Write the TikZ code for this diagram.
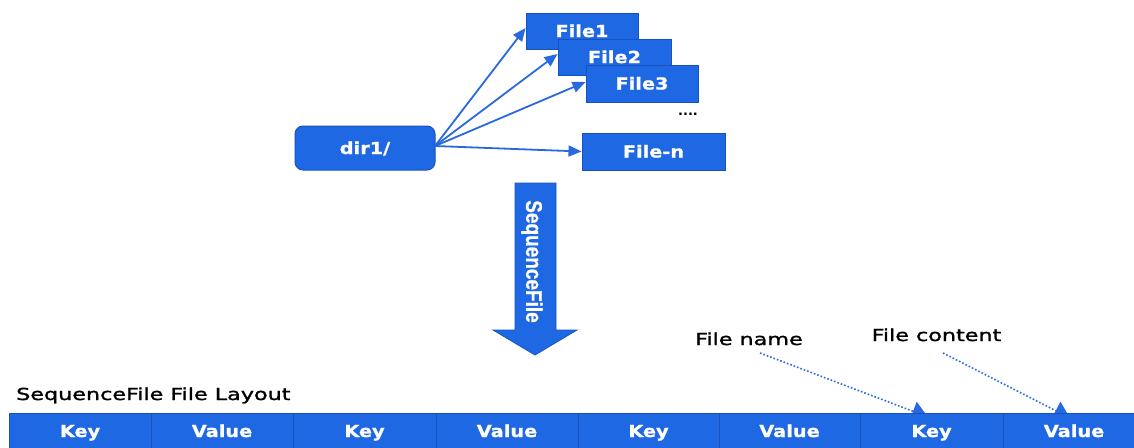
\documentclass[tikz,border=0pt]{standalone}
\usepackage{fontspec}
\setmainfont{DejaVu Sans}
\newfontfamily\boxfont[FakeStretch=1.17,FakeBold=1]{DejaVu Sans}
\newfontfamily\labelfont[FakeStretch=1.35,FakeBold=1.5]{DejaVu Sans}
\newfontfamily\narrowfont[FakeStretch=0.95,FakeBold=1]{Liberation Sans}
\usetikzlibrary{arrows.meta}
\definecolor{boxblue}{RGB}{31,104,228}
\definecolor{edgeblue}{RGB}{24,82,190}
\definecolor{lineblue}{RGB}{40,105,225}
\begin{document}
\begin{tikzpicture}[x=1pt,y=-1pt,
  filebox/.style={draw=edgeblue, fill=boxblue, line width=1pt, text=white,
    font=\boxfont\bfseries\fontsize{16.5}{16.5}\selectfont, inner sep=0pt,
    text height=12pt, text depth=0pt},
  cell/.style={draw=edgeblue, fill=boxblue, line width=1pt, text=white,
    font=\boxfont\bfseries\fontsize{16.5}{16.5}\selectfont, inner sep=0pt,
    minimum height=39pt, text height=12pt, text depth=3pt},
  link/.style={draw=lineblue, line width=1.8pt, -{Triangle[length=13pt,width=11pt]}},
  note/.style={draw=lineblue, line width=1.6pt, dotted,
    -{Triangle[length=16pt,width=20pt]}},
  caption/.style={text=black, font=\labelfont\fontsize{16.5}{16.5}\selectfont,
    inner sep=0pt, anchor=base}]
\useasboundingbox (0,0) rectangle (1134,447);

% directory and the files it holds
\node[filebox, rounded corners=8pt, minimum width=140pt, minimum height=44pt] (dir) at (365,148) {dir1/};
\node[filebox, minimum width=112pt, minimum height=36pt] (f1) at (582,31) {File1};
\node[filebox, minimum width=113pt, minimum height=36pt] (f2) at (614.5,57) {File2};
\node[filebox, minimum width=112pt, minimum height=37pt] (f3) at (642,83.5) {File3};
\node[text=black, font=\bfseries\fontsize{13}{13}\selectfont, inner sep=0pt] (dots) at (688,114) {....};
\node[filebox, minimum width=143pt, minimum height=37pt] (fn) at (653.5,151.5) {File-n};

\coordinate (src) at (435,146);
\draw[link] (src) -- ([yshift=3pt]f1.west);
\draw[link] (src) -- ([yshift=3pt]f2.west);
\draw[link] (src) -- ([yshift=1.5pt]f3.west);
\draw[link] (src) -- (fn.west);

% conversion arrow
\path[fill=boxblue, draw=edgeblue, line width=0.8pt]
  (515,183) -- (556,183) -- (556,330) -- (577,330) -- (535,355) -- (493,330) -- (515,330) -- cycle;
\node[inner sep=0pt, text=white] (conv) at (532,261.5)
  {\scalebox{1.13}[1]{\rotatebox{-90}{\narrowfont\bfseries\fontsize{20}{20}\selectfont SequenceFile}}};

% labels for the last record
\node[caption] (lname) at (749,345) {File name};
\node[caption] (lcont) at (936.5,341) {File content};
\node[caption, anchor=base west] (layout) at (16,400) {SequenceFile File Layout};

\coordinate (kend) at (928,417);
\coordinate (vend) at (1070,418);
\draw[note] (760,353) -- (kend);
\draw[note] (943,353) -- (vend);

% record layout
\foreach \i/\a/\b/\t in {1/9/151/Key, 2/151/293/Value, 3/293/436/Key, 4/436/578/Value,
                        5/578/719/Key, 6/719/860/Value, 7/860/1003/Key, 8/1003/1145/Value}{
  \node[cell, minimum width={\b-\a}] (c\i) at ({(\a+\b)/2},432.5) {\t};
}
\end{tikzpicture}
\end{document}
